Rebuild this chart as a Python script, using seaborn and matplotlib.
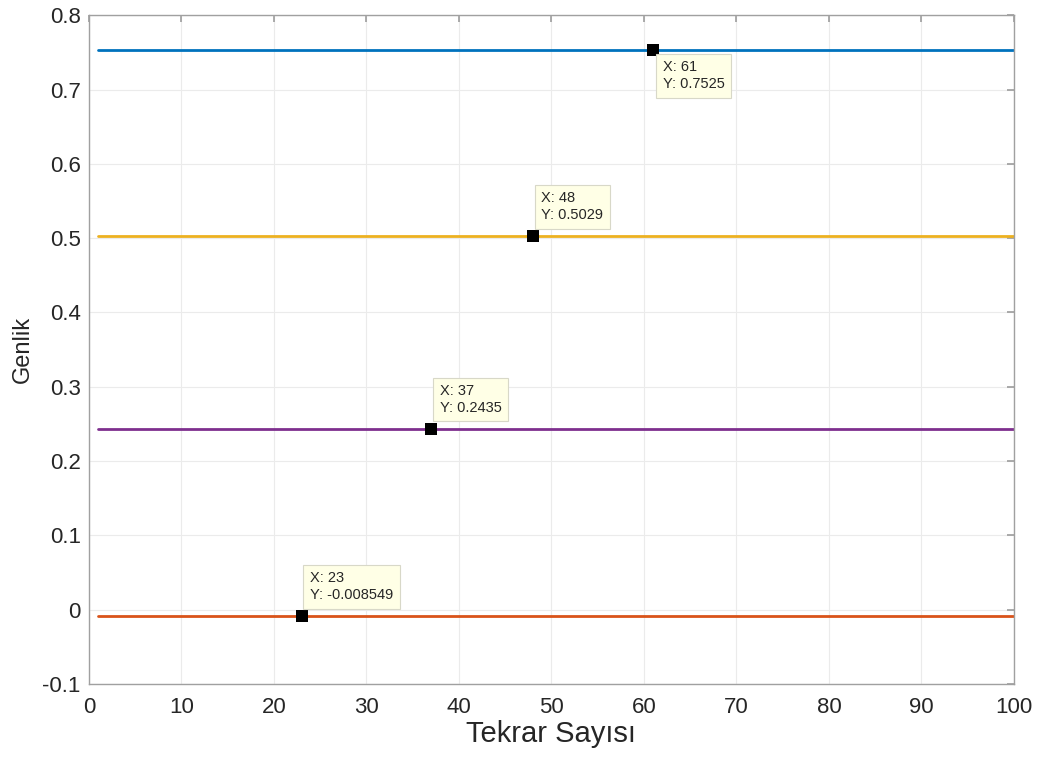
import numpy as np
import pandas as pd
import matplotlib
matplotlib.use("Agg")
import matplotlib.pyplot as plt
import seaborn as sns

# Repetition counts (x axis)
tekrar = list(range(1, 101))

# Steady amplitude level of each signal
series_names = ["s1", "s2", "s3", "s4"]
levels = [0.7525, 0.5029, 0.2435, -0.008549]
colors = ["#0072BD", "#EDB120", "#7E2F8E", "#D95319"]

# Data-tip points (x, y)
tip_x = [61, 48, 37, 23]
tip_y = [0.7525, 0.5029, 0.2435, -0.008549]

rows = []
for name, lvl in zip(series_names, levels):
    for t in tekrar:
        rows.append({"Tekrar": t, "Genlik": lvl, "seri": name})
df = pd.DataFrame(rows)

sns.set_theme(style="white")
plt.rcParams["font.family"] = ["Liberation Sans", "DejaVu Sans"]

fig = plt.figure(figsize=(10.42, 7.6), dpi=100)
ax = fig.add_axes([0.0854, 0.10, 0.8876, 0.880])

sns.lineplot(data=df, x="Tekrar", y="Genlik", hue="seri",
             palette=dict(zip(series_names, colors)), linewidth=2.0,
             legend=False, ax=ax)

ax.scatter(tip_x, tip_y, marker="s", s=70, color="black", zorder=5,
           linewidths=0)

# Data-tip boxes: first one below the point, others above
offsets = [(7, -7, "top"), (6, 10, "bottom"), (6, 10, "bottom"), (6, 10, "bottom")]
for x, y, (dx, dy, va) in zip(tip_x, tip_y, offsets):
    ax.annotate(f"X: {x}\nY: {y:.4g}", xy=(x, y), xytext=(dx, dy),
                textcoords="offset points", ha="left", va=va,
                fontsize=10.5, color="#262626", linespacing=1.25,
                bbox=dict(boxstyle="square,pad=0.45", fc="#FFFFE6",
                          ec="#D8D8C8", lw=0.8),
                zorder=6)

ax.set_xlim(0, 100)
ax.set_ylim(-0.1, 0.8)
ax.set_xticks(np.arange(0, 101, 10))
yt = np.round(np.arange(-0.1, 0.81, 0.1), 1)
ax.set_yticks(yt)
ax.set_yticklabels([f"{v:g}" for v in yt])
ax.grid(True, color="#EBEBEB", linewidth=0.8)
ax.set_axisbelow(True)
for sp in ax.spines.values():
    sp.set_visible(True)
    sp.set_color("#A0A0A0")
    sp.set_linewidth(1.0)
ax.tick_params(axis="both", direction="in", length=5, color="#A0A0A0",
               labelsize=16, labelcolor="#262626", top=True, right=True,
               labeltop=False, labelright=False)
ax.tick_params(axis="x", pad=9.5)
ax.tick_params(axis="y", pad=6)

ax.set_xlabel("Tekrar Sayısı", fontsize=21, color="#262626", labelpad=1)
ax.set_ylabel("Genlik", fontsize=17, color="#262626", labelpad=6)

fig.savefig("out.png", dpi=100)
